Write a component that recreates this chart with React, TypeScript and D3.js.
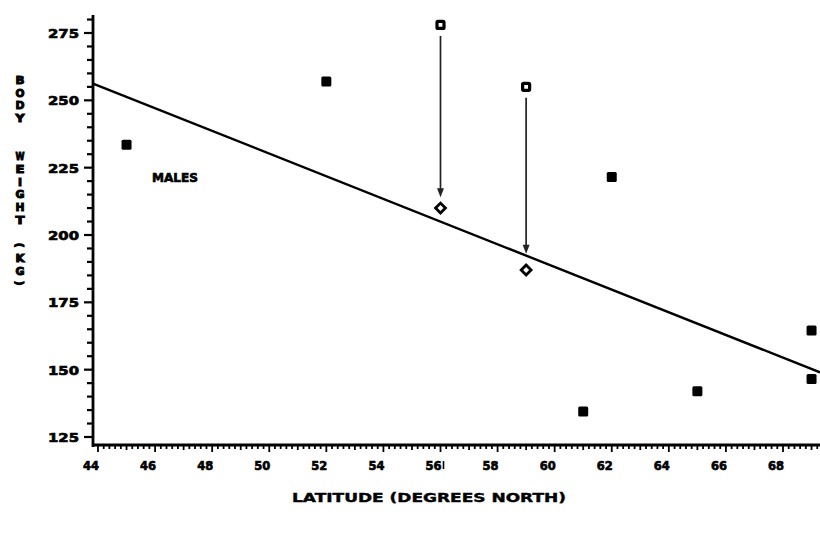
import React from "react";
import * as d3 from "d3";

// ---- data ----
const filledLat = [45, 52, 62, 61, 65, 69, 69];
const filledWeight = [233.5, 257, 221.5, 134.5, 142, 164.5, 146.5];

const openLat = [56, 59];
const openWeight = [278, 255];
const adjustedWeight = [210, 187];
const arrowEndWeight = [214, 193];

const fitIntercept44 = 255.5; // body weight at 44 deg N
const fitSlope = -4.21; // kg per degree

const xTicks = [44, 46, 48, 50, 52, 54, 56, 58, 60, 62, 64, 66, 68];
const yTicks = [125, 150, 175, 200, 225, 250, 275];

const yTitleLetters = ["B", "O", "D", "Y", "", "", "W", "E", "I", "G", "H", "T", "", "(", "K", "G", ")"];

const W = 820;
const H = 543;

export default function App() {
  const x = d3.scaleLinear().domain([44, 68]).range([98, 783]);
  const y = d3.scaleLinear().domain([125, 275]).range([437, 33]);

  const axisLeft = 93;
  const axisBottom = 445;
  const axisTopY = 15;
  const xMin = x.invert(axisLeft);
  const xMax = x.invert(W);

  const minorX = d3.range(44, 69.4, 0.2).filter((v) => x(v) > axisLeft + 1 && x(v) <= W);
  const minorY = d3.range(125, 281, 5);

  const fit = (lat: number) => fitIntercept44 + fitSlope * (lat - 44);
  const fitLine = d3.line<number>().x((d) => x(d)).y((d) => y(fit(d)));

  const font = "'DejaVu Sans', Verdana, sans-serif";
  const heavy = { stroke: "#000", strokeWidth: 0.7, paintOrder: "stroke" as const };

  return (
    <svg width={W} height={H} style={{ position: "absolute", left: 0, top: 0, background: "#fff" }}>
      <defs>
        <clipPath id="plot">
          <rect x={0} y={0} width={W} height={H} />
        </clipPath>
      </defs>

      {/* Y axis */}
      <line x1={axisLeft} x2={axisLeft} y1={axisTopY} y2={axisBottom + 2} stroke="#000" strokeWidth={2.8} />
      {minorY.map((v) => {
        const major = yTicks.includes(v);
        return (
          <line
            key={"ym" + v}
            x1={axisLeft - (major ? 9 : 6)}
            x2={axisLeft}
            y1={y(v)}
            y2={y(v)}
            stroke="#000"
            strokeWidth={2.2}
          />
        );
      })}
      {yTicks.map((v) => (
        <text
          key={"yl" + v}
          x={48}
          y={y(v) + 5}
          fontFamily={font}
          fontWeight="bold"
          fontSize={13}
          textLength={31}
          lengthAdjust="spacingAndGlyphs"
          fill="#000"
          {...heavy}
        >
          {v}
        </text>
      ))}

      {/* X axis */}
      <line x1={axisLeft - 1} x2={W} y1={axisBottom} y2={axisBottom} stroke="#000" strokeWidth={2.8} />
      {minorX.map((v, i) => {
        const r = Math.round(v * 10) / 10;
        const major = Math.abs(r / 2 - Math.round(r / 2)) < 1e-6;
        const mid = !major && Math.abs(r - Math.round(r)) < 1e-6;
        return (
          <line
            key={"xm" + i}
            x1={x(r)}
            x2={x(r)}
            y1={axisBottom}
            y2={axisBottom + (major ? 7 : mid ? 5 : 4)}
            stroke="#000"
            strokeWidth={1.8}
          />
        );
      })}
      {xTicks.map((v) => (
        <text
          key={"xl" + v}
          x={x(v) - 7}
          y={470}
          textAnchor="middle"
          fontFamily={font}
          fontWeight="bold"
          fontSize={13}
          textLength={16}
          lengthAdjust="spacingAndGlyphs"
          fill="#000"
          {...heavy}
        >
          {v}
        </text>
      ))}
      <line x1={x(56) + 3} x2={x(56) + 3} y1={461} y2={469} stroke="#000" strokeWidth={1.6} />

      {/* Axis titles */}
      <text
        x={429}
        y={502}
        textAnchor="middle"
        fontFamily={font}
        fontWeight="bold"
        fontSize={12}
        textLength={274}
        lengthAdjust="spacingAndGlyphs"
        fill="#000"
        {...heavy}
        strokeWidth={0.4}
      >
        LATITUDE (DEGREES NORTH)
      </text>
      {yTitleLetters.map((c, i) => {
        if (c === "") return null;
        const paren = c === "(" || c === ")";
        const cy = 80 + i * 12.7;
        return (
          <text
            key={"yt" + i}
            x={20}
            y={cy}
            textAnchor="middle"
            dominantBaseline="central"
            fontFamily={font}
            fontWeight="bold"
            fontSize={10.5}
            fill="#000"
            stroke="#000"
            strokeWidth={1}
            textLength={paren ? undefined : c === "I" ? 4 : 9}
            lengthAdjust={paren ? undefined : "spacingAndGlyphs"}
            transform={paren ? `rotate(90 20 ${cy})` : undefined}
          >
            {c}
          </text>
        );
      })}

      <text
        x={152}
        y={182}
        fontFamily={font}
        fontWeight="bold"
        fontSize={13}
        textLength={46}
        lengthAdjust="spacingAndGlyphs"
        fill="#000"
        {...heavy}
      >
        MALES
      </text>

      <g clipPath="url(#plot)">
        {/* regression line */}
        <path d={fitLine([xMin, xMax]) || ""} fill="none" stroke="#000" strokeWidth={2.4} />

        {/* arrows */}
        {openLat.map((lat, i) => {
          const cx = x(lat);
          const y0 = y(openWeight[i]) + 11;
          const y1 = y(arrowEndWeight[i]);
          return (
            <g key={"ar" + i}>
              <line x1={cx} x2={cx} y1={y0} y2={y1 - 7} stroke="#222" strokeWidth={1.7} />
              <path d={`M${cx - 3.5},${y1 - 9} L${cx + 3.5},${y1 - 9} L${cx},${y1} Z`} fill="#222" />
            </g>
          );
        })}

        {/* filled squares */}
        {filledLat.map((lat, i) => (
          <rect
            key={"fs" + i}
            x={x(lat) - 5}
            y={y(filledWeight[i]) - 5}
            width={10}
            height={10}
            rx={1.5}
            fill="#000"
          />
        ))}

        {/* open squares */}
        {openLat.map((lat, i) => (
          <rect
            key={"os" + i}
            x={x(lat) - 3.5}
            y={y(openWeight[i]) - 3.5}
            width={7}
            height={7}
            rx={1}
            fill="#fff"
            stroke="#000"
            strokeWidth={3.2}
          />
        ))}

        {/* diamonds */}
        {openLat.map((lat, i) => {
          const cx = x(lat);
          const cy = y(adjustedWeight[i]);
          return (
            <rect
              key={"dm" + i}
              x={cx - 3.5}
              y={cy - 3.5}
              width={7}
              height={7}
              fill="#fff"
              stroke="#000"
              strokeWidth={2.8}
              transform={`rotate(45 ${cx} ${cy})`}
            />
          );
        })}
      </g>
    </svg>
  );
}
